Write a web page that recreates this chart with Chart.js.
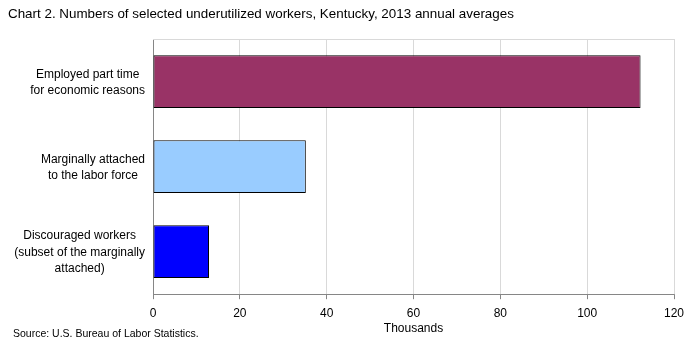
<!DOCTYPE html>
<html><head><meta charset="utf-8">
<script src="https://cdn.jsdelivr.net/npm/chart.js@4.4.0/dist/chart.umd.min.js"></script>
<style>
html,body{margin:0;padding:0;background:#fff;}
#wrap{position:relative;width:700px;height:356px;}
#title{position:absolute;left:8px;top:6px;font:13.4px "Liberation Sans",Arial,sans-serif;color:#000;white-space:nowrap;}
#source{position:absolute;left:13px;top:327px;font:10.5px "Liberation Sans",Arial,sans-serif;color:#000;white-space:nowrap;}
canvas{position:absolute;left:0;top:0;}
</style></head>
<body><div id="wrap">
<canvas id="c" width="700" height="356"></canvas>
<div id="title">Chart 2. Numbers of selected underutilized workers, Kentucky, 2013 annual averages</div>
<div id="source">Source: U.S. Bureau of Labor Statistics.</div>
</div>
<script>
const categories = [
  ["Employed part time", "for economic reasons"],
  ["Marginally attached", "to the labor force"],
  ["Discouraged workers", "(subset of the marginally", "attached)"]
];
const values = [112.3, 35.2, 12.9];
const barColors = ["#993366", "#99ccff", "#0000ff"];
const xTicks = [0, 20, 40, 60, 80, 100, 120];
const axisTitle = "Thousands";

const labelFont = '12px "Liberation Sans", Arial, sans-serif';

const customLabels = {
  id: 'customLabels',
  afterDraw(chart) {
    const ctx = chart.ctx;
    const y = chart.scales.y;
    const ca = chart.chartArea;
    ctx.save();
    ctx.font = labelFont;
    ctx.fillStyle = '#000';
    ctx.textAlign = 'center';
    ctx.textBaseline = 'middle';
    const lh = 16.5;
    categories.forEach((lines, i) => {
      const cy = y.getPixelForValue(i) + 1;
      const maxw = Math.max(...lines.map(l => ctx.measureText(l).width));
      const cx = ca.left - 8 - maxw / 2;
      lines.forEach((l, k) => {
        ctx.fillText(l, cx, cy + (k - (lines.length - 1) / 2) * lh);
      });
    });
    ctx.restore();
  },
  beforeDatasetsDraw(chart) {
    const ctx = chart.ctx;
    const ca = chart.chartArea;
    ctx.save();
    ctx.strokeStyle = '#d9d9d9';
    ctx.lineWidth = 1;
    ctx.beginPath();
    ctx.moveTo(ca.left, ca.top + 0.5);
    ctx.lineTo(ca.right + 0.5, ca.top + 0.5);
    ctx.lineTo(ca.right + 0.5, ca.bottom);
    ctx.stroke();
    ctx.restore();
  }
};

new Chart(document.getElementById('c'), {
  type: 'bar',
  data: {
    labels: categories.map(c => c.join(' ')),
    datasets: [{
      data: values,
      backgroundColor: barColors,
      borderColor: '#000',
      borderWidth: 1,
      borderSkipped: false,
      categoryPercentage: 1,
      barPercentage: 0.62
    }]
  },
  options: {
    indexAxis: 'y',
    responsive: false,
    animation: false,
    devicePixelRatio: 1,
    layout: { padding: { top: 39, right: 26, left: 0, bottom: 20 } },
    plugins: { legend: { display: false }, tooltip: { enabled: false }, title: { display: false } },
    scales: {
      x: {
        min: 0, max: 120,
        afterBuildTicks: (s) => { s.ticks = xTicks.map(v => ({ value: v })); },
        ticks: { color: '#000', font: { family: '"Liberation Sans", Arial, sans-serif', size: 12 }, padding: 7, maxRotation: 0 },
        grid: { color: '#d9d9d9', tickColor: '#868686', tickLength: 5, drawTicks: true },
        border: { color: '#868686' },
        title: { display: true, text: axisTitle, color: '#000', font: { family: '"Liberation Sans", Arial, sans-serif', size: 12 }, padding: { top: -6, bottom: 0 } }
      },
      y: {
        afterFit: (s) => { s.width = 153; },
        ticks: { display: false },
        grid: { display: false },
        border: { color: '#868686' }
      }
    }
  },
  plugins: [customLabels]
});
</script>
</body></html>
